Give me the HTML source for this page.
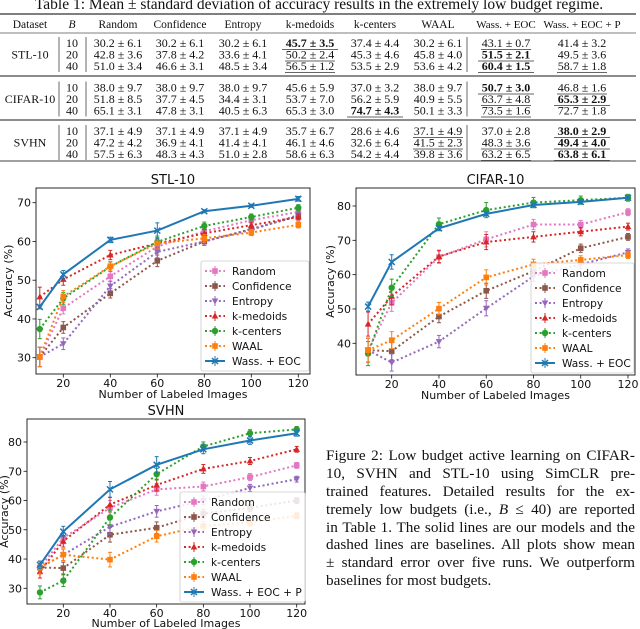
<!DOCTYPE html>
<html><head><meta charset="utf-8"><style>
html,body{margin:0;padding:0;background:#fff;}
#root{position:relative;width:640px;height:629px;overflow:hidden;}
svg{position:absolute;left:0;top:0;}
.cap{position:absolute;left:326px;width:309px;font-family:"Liberation Serif",serif;font-size:15.2px;line-height:18px;color:#111;white-space:nowrap;}
.cap div{text-align:justify;text-align-last:justify;height:17.9px;}
.cap div.last{text-align-last:left;}
</style></head><body>
<div id="root">
<svg id="svg" width="640" height="629" viewBox="0 0 640 629"></svg>
<div class="cap" style="top:447px">
<div>Figure 2: Low budget active learning on CIFAR-</div>
<div>10, SVHN and STL-10 using SimCLR pre-</div>
<div>trained features. Detailed results for the ex-</div>
<div>tremely low budgets (i.e., <i>B</i> ≤ 40) are reported</div>
<div>in Table 1. The solid lines are our models and the</div>
<div>dashed lines are baselines. All plots show mean</div>
<div>± standard error over five runs. We outperform</div>
<div class="last">baselines for most budgets.</div>
</div>
</div>
<script>
// ---------- chart data ----------
const xCats = [10, 20, 40, 60, 80, 100, 120];
const xTicks = [20, 40, 60, 80, 100, 120];
const seriesNames = ["Random", "Confidence", "Entropy", "k-medoids", "k-centers", "WAAL"];

const stlRandom = [30.2, 42.8, 51.0, 58.7, 62.6, 65.5, 67.6];
const stlConfidence = [30.2, 37.8, 46.6, 55.0, 60.0, 63.2, 66.5];
const stlEntropy = [30.2, 33.6, 48.5, 57.3, 60.0, 63.0, 66.8];
const stlKmedoids = [45.7, 50.2, 56.5, 59.5, 62.1, 64.2, 66.3];
const stlKcenters = [37.4, 45.3, 53.5, 59.9, 64.0, 66.3, 68.7];
const stlWaal = [30.2, 45.8, 53.6, 59.5, 60.8, 62.3, 64.3];
const stlOurs = [43.1, 51.5, 60.4, 62.8, 67.8, 69.2, 71.0];
const stlErr = [2.5, 1.5, 1.2, 1.5, 1.0, 0.8, 0.8];
const stlOursErr = [0.5, 1.0, 0.7, 2.0, 0.4, 0.4, 0.6];

const cifRandom = [38.0, 51.8, 65.1, 70.3, 74.6, 74.6, 78.2];
const cifConfidence = [38.0, 37.7, 47.8, 55.3, 61.0, 67.7, 71.0];
const cifEntropy = [38.0, 34.4, 40.5, 50.2, 59.5, 63.0, 66.5];
const cifKmedoids = [45.6, 53.7, 65.3, 69.5, 71.0, 72.5, 74.0];
const cifKcenters = [37.0, 56.2, 74.7, 78.8, 81.0, 81.7, 82.4];
const cifWaal = [38.0, 40.9, 50.1, 59.2, 63.0, 64.3, 65.7];
const cifOurs = [50.7, 63.7, 73.5, 77.7, 80.3, 81.2, 82.4];
const cifErr = [3.5, 2.5, 1.8, 2.2, 1.5, 1.2, 1.0];
const cifOursErr = [1.3, 2.1, 0.7, 0.6, 0.5, 0.5, 0.4];

const svhRandom = [37.1, 47.2, 57.5, 63.8, 64.8, 68.0, 72.0];
const svhConfidence = [37.1, 36.9, 48.3, 50.7, 55.5, 57.5, 60.0];
const svhEntropy = [37.1, 41.4, 51.0, 56.3, 60.0, 64.3, 67.3];
const svhKmedoids = [35.7, 46.1, 58.6, 65.3, 70.8, 73.5, 77.5];
const svhKcenters = [28.6, 32.6, 54.2, 69.0, 78.5, 83.0, 84.3];
const svhWaal = [37.1, 41.5, 39.8, 47.8, 51.3, 52.5, 54.8];
const svhOurs = [38.0, 49.4, 63.8, 72.2, 77.5, 80.5, 83.0];
const svhErr = [2.2, 2.0, 2.5, 2.0, 1.5, 1.2, 1.0];
const svhOursErr = [1.3, 1.8, 2.7, 2.8, 1.5, 1.3, 1.0];

// ---------- table data ----------
const tableHeaders = ["Dataset", "B", "Random", "Confidence", "Entropy", "k-medoids", "k-centers", "WAAL", "Wass. + EOC", "Wass. + EOC + P"];
const tableDatasets = ["STL-10", "CIFAR-10", "SVHN"];
const tableBudgets = [10, 20, 40];
const tableRows = [
 ["30.2 ± 6.1","30.2 ± 6.1","30.2 ± 6.1","b45.7 ± 3.5","37.4 ± 4.4","30.2 ± 6.1","u43.1 ± 0.7","41.4 ± 3.2"],
 ["42.8 ± 3.6","37.8 ± 4.2","33.6 ± 4.1","u50.2 ± 2.4","45.3 ± 4.6","45.8 ± 4.0","b51.5 ± 2.1","49.5 ± 3.6"],
 ["51.0 ± 3.4","46.6 ± 3.1","48.5 ± 3.4","u56.5 ± 1.2","53.5 ± 2.9","53.6 ± 4.2","b60.4 ± 1.5","u58.7 ± 1.8"],
 ["38.0 ± 9.7","38.0 ± 9.7","38.0 ± 9.7","45.6 ± 5.9","37.0 ± 3.2","38.0 ± 9.7","b50.7 ± 3.0","u46.8 ± 1.6"],
 ["51.8 ± 8.5","37.7 ± 4.5","34.4 ± 3.1","53.7 ± 7.0","56.2 ± 5.9","40.9 ± 5.5","u63.7 ± 4.8","b65.3 ± 2.9"],
 ["65.1 ± 3.1","47.8 ± 3.1","40.5 ± 6.3","65.3 ± 3.0","b74.7 ± 4.3","50.1 ± 3.3","u73.5 ± 1.6","72.7 ± 1.8"],
 ["37.1 ± 4.9","37.1 ± 4.9","37.1 ± 4.9","35.7 ± 6.7","28.6 ± 4.6","u37.1 ± 4.9","37.0 ± 2.8","b38.0 ± 2.9"],
 ["47.2 ± 4.2","36.9 ± 4.1","41.4 ± 4.1","46.1 ± 4.6","32.6 ± 6.4","u41.5 ± 2.3","u48.3 ± 3.6","b49.4 ± 4.0"],
 ["57.5 ± 6.3","48.3 ± 4.3","51.0 ± 2.8","58.6 ± 6.3","54.2 ± 4.4","39.8 ± 3.6","u63.2 ± 6.5","b63.8 ± 6.1"]
];

const NS = "http://www.w3.org/2000/svg";
const svg = document.getElementById("svg");
function mk(tag, attrs, parent) {
  const e = document.createElementNS(NS, tag);
  for (const k in attrs) e.setAttribute(k, attrs[k]);
  (parent || svg).appendChild(e);
  return e;
}
function txt(s, x, y, size, family, anchor, parent, extra) {
  const t = mk("text", Object.assign({x: x, y: y, "font-size": size, "font-family": family, "text-anchor": anchor || "middle", fill: "#111"}, extra || {}), parent);
  t.textContent = s;
  return t;
}
const SERIF = '"Liberation Serif", serif';
const SANS = '"DejaVu Sans", "Liberation Sans", sans-serif';

// ---------- table ----------
const tbl = mk("g", {});


const tt = txt("Table 1:  Mean ± standard deviation of accuracy results in the extremely low budget regime.", 319, 9, 15.5, SERIF, "middle", tbl);


const colX = [30, 72, 118, 180, 243, 310, 375, 438, 506, 582];
mk("line", {x1: 0, x2: 636, y1: 14, y2: 14, stroke: "#333", "stroke-width": 1.3}, tbl);
mk("line", {x1: 0, x2: 636, y1: 33, y2: 33, stroke: "#555", "stroke-width": 0.8}, tbl);
tableHeaders.forEach((h, i) => {
  const t = txt(h, colX[i], 28, i >= 8 ? 11 : 11.5, SERIF, "middle", tbl);
  if (i === 1) t.setAttribute("font-style", "italic");
  
  
});
const rowY0 = [43, 87.5, 131];
const ruleY = [76, 120, 161];
tableDatasets.forEach((d, s) => {
  const y0 = rowY0[s];
  const lab = txt(d, colX[0], y0 + 11.5 + 4, 12, SERIF, "middle", tbl);
  
  
  [59, 86, 467].forEach(vx => mk("line", {x1: vx, x2: vx, y1: y0 - 6, y2: y0 + 29, stroke: "#444", "stroke-width": 0.8}, tbl));
  mk("line", {x1: 0, x2: 636, y1: ruleY[s], y2: ruleY[s], stroke: "#666", "stroke-width": s === 2 ? 1.3 : 1.6}, tbl);
  tableBudgets.forEach((b, r) => {
    const y = y0 + r * 11.5 + 4;
    txt(String(b), colX[1], y, 12, SERIF, "middle", tbl);
    tableRows[s * 3 + r].forEach((cell, c) => {
      let bold = false, und = false, str = cell;
      if (cell[0] === "b") { bold = true; und = true; str = cell.slice(1); }
      else if (cell[0] === "u") { und = true; str = cell.slice(1); }
      const t = txt(str, colX[c + 2], y, 12, SERIF, "middle", tbl, bold ? {"font-weight": "bold"} : {});
      
      
      if (und) {
        const w = bold ? 56 : 50;
        mk("line", {x1: colX[c + 2] - w / 2, x2: colX[c + 2] + w / 2, y1: y + 2.5, y2: y + 2.5, stroke: "#333", "stroke-width": 0.8}, tbl);
      }
    });
  });
});

// ---------- charts ----------
const colors = ["#e377c2", "#8c564b", "#9467bd", "#d62728", "#2ca02c", "#ff7f0e", "#1f77b4"];
const markers = ["s", "s", "v", "^", "o", "s", "x"];

function marker(g, type, x, y, c) {
  if (type === "s") mk("rect", {x: x - 2.8, y: y - 2.8, width: 5.6, height: 5.6, fill: c}, g);
  else if (type === "o") mk("circle", {cx: x, cy: y, r: 3.2, fill: c}, g);
  else if (type === "^") mk("polygon", {points: `${x},${y-3.5} ${x-3.3},${y+2.5} ${x+3.3},${y+2.5}`, fill: c}, g);
  else if (type === "v") mk("polygon", {points: `${x},${y+3.5} ${x-3.3},${y-2.5} ${x+3.3},${y-2.5}`, fill: c}, g);
  else { mk("path", {d: `M${x-3},${y-3}L${x+3},${y+3}M${x-3},${y+3}L${x+3},${y-3}`, stroke: c, "stroke-width": 1.5}, g); }
}

function drawChart(cfg) {
  const g = mk("g", {});
  
  
  const xs = v => cfg.x20 + (v - 20) * (cfg.x120 - cfg.x20) / 100;
  const ys = v => cfg.yA + (v - cfg.vA) * (cfg.yB - cfg.yA) / (cfg.vB - cfg.vA);
  mk("rect", {x: cfg.L, y: cfg.T, width: cfg.R - cfg.L, height: cfg.B - cfg.T, fill: "#fff", stroke: "#111", "stroke-width": 0.9}, g);
  const title = txt(cfg.title, (cfg.L + cfg.R) / 2, cfg.T - 4, 13, SANS, "middle", g);
  
  
  xTicks.forEach(v => {
    mk("line", {x1: xs(v), x2: xs(v), y1: cfg.B, y2: cfg.B + 3.5, stroke: "#111", "stroke-width": 0.8}, g);
    const t = txt(String(v), xs(v), cfg.B + 13, 11, SANS, "middle", g);
    
    
  });
  cfg.yTicks.forEach(v => {
    mk("line", {x1: cfg.L - 3.5, x2: cfg.L, y1: ys(v), y2: ys(v), stroke: "#111", "stroke-width": 0.8}, g);
    const t = txt(String(v), cfg.L - 5, ys(v) + 4, 11, SANS, "end", g);
    
    
  });
  const xl = txt("Number of Labeled Images", (cfg.L + cfg.R) / 2, cfg.B + cfg.xlabDy, 11, SANS, "middle", g);
  
  
  const yc = (cfg.T + cfg.B) / 2;
  const yl = txt("Accuracy (%)", 0, 0, 11, SANS, "middle", g, {transform: `translate(${cfg.ylabX},${yc}) rotate(-90)`});
  
  

  const all = cfg.series.concat([cfg.ours]);
  all.forEach((vals, si) => {
    const c = colors[si];
    const err = si === 6 ? cfg.oursErr : cfg.err;
    const sg = mk("g", {}, g);
    
    
    const pts = vals.map((v, i) => `${xs(xCats[i])},${ys(v)}`).join(" ");
    mk("polyline", {points: pts, fill: "none", stroke: c, "stroke-width": 2, "stroke-dasharray": si === 6 ? "none" : "2,2.6"}, sg);
    vals.forEach((v, i) => {
      const x = xs(xCats[i]);
      mk("line", {x1: x, x2: x, y1: ys(v - err[i]), y2: ys(v + err[i]), stroke: c, "stroke-width": 1}, sg);
      mk("line", {x1: x - 2, x2: x + 2, y1: ys(v - err[i]), y2: ys(v - err[i]), stroke: c, "stroke-width": 1}, sg);
      mk("line", {x1: x - 2, x2: x + 2, y1: ys(v + err[i]), y2: ys(v + err[i]), stroke: c, "stroke-width": 1}, sg);
      marker(sg, markers[si], x, ys(v), c);
    });
  });

  // legend
  const lg = mk("g", {}, g);
  
  
  mk("rect", {x: cfg.lx, y: cfg.ly, width: cfg.lw, height: 110, rx: 2, fill: "#fff", "fill-opacity": 0.85, stroke: "#ccc", "stroke-width": 0.8}, lg);
  const labels = seriesNames.concat([cfg.oursName]);
  labels.forEach((lab, i) => {
    const y = cfg.ly + 10 + i * 15;
    const eg = mk("g", {}, lg);
    
    
    mk("line", {x1: cfg.lx + 4, x2: cfg.lx + 24, y1: y, y2: y, stroke: colors[i], "stroke-width": 2, "stroke-dasharray": i === 6 ? "none" : "2,2.6"}, eg);
    mk("line", {x1: cfg.lx + 14, x2: cfg.lx + 14, y1: y - 5, y2: y + 5, stroke: colors[i], "stroke-width": 1}, eg);
    marker(eg, markers[i], cfg.lx + 14, y, colors[i]);
    txt(lab, cfg.lx + 31, y + 4, 10.6, SANS, "start", eg);
  });
}

drawChart({name: "chart-stl10", title: "STL-10", L: 36, R: 310, T: 188, B: 374, ylabX: 12, xlabDy: 24,
  x20: 63.3, x120: 298.3, vA: 70, yA: 202.7, vB: 30, yB: 357.7, yTicks: [30, 40, 50, 60, 70],
  series: [stlRandom, stlConfidence, stlEntropy, stlKmedoids, stlKcenters, stlWaal], ours: stlOurs,
  err: stlErr, oursErr: stlOursErr, oursName: "Wass. + EOC", lx: 201, ly: 261, lw: 108});
drawChart({name: "chart-cifar10", title: "CIFAR-10", L: 356, R: 635, T: 188, B: 375, ylabX: 334, xlabDy: 24,
  x20: 391.7, x120: 628, vA: 80, yA: 206, vB: 40, yB: 343.3, yTicks: [40, 50, 60, 70, 80],
  series: [cifRandom, cifConfidence, cifEntropy, cifKmedoids, cifKcenters, cifWaal], ours: cifOurs,
  err: cifErr, oursErr: cifOursErr, oursName: "Wass. + EOC", lx: 531, ly: 263, lw: 103});
drawChart({name: "chart-svhn", title: "SVHN", L: 27, R: 305, T: 419, B: 604, ylabX: 8, xlabDy: 23,
  x20: 63.3, x120: 296.7, vA: 80, yA: 442, vB: 30, yB: 588.3, yTicks: [30, 40, 50, 60, 70, 80],
  series: [svhRandom, svhConfidence, svhEntropy, svhKmedoids, svhKcenters, svhWaal], ours: svhOurs,
  err: svhErr, oursErr: svhOursErr, oursName: "Wass. + EOC + P", lx: 180, ly: 492, lw: 125});
</script>
</body></html>
